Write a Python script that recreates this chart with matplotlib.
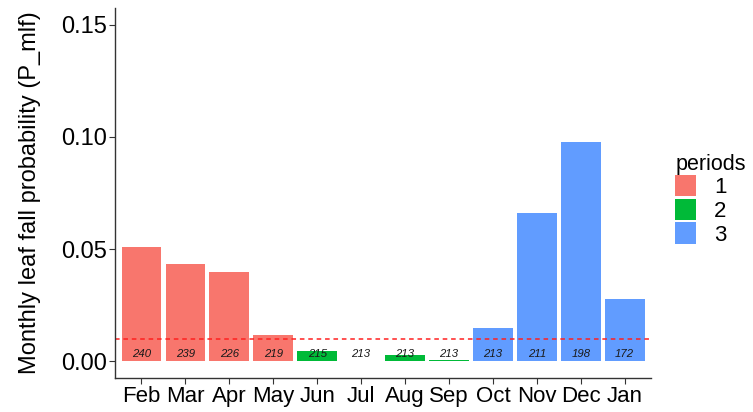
import matplotlib.pyplot as plt
from matplotlib.patches import Patch

plt.rcParams['font.family'] = ['Liberation Sans', 'DejaVu Sans']

months = ['Feb', 'Mar', 'Apr', 'May', 'Jun', 'Jul', 'Aug', 'Sep', 'Oct', 'Nov', 'Dec', 'Jan']
p_mlf = [0.0509, 0.0434, 0.0398, 0.0115, 0.0044, 0.0, 0.0027, 0.0006, 0.0147, 0.0660, 0.0978, 0.0279]
n_obs = [240, 239, 226, 219, 215, 213, 213, 213, 213, 211, 198, 172]
periods = [1, 1, 1, 1, 2, 2, 2, 2, 3, 3, 3, 3]
threshold = 0.01

period_colors = {1: '#F8766D', 2: '#00BA38', 3: '#619CFF'}

fig = plt.figure(figsize=(7.53, 4.12), dpi=100)
ax = fig.add_axes([0.1527, 0.0825, 0.712, 0.898])

x = list(range(len(months)))
ax.bar(x, p_mlf, width=0.9, color=[period_colors[p] for p in periods])
for xi, n in zip(x, n_obs):
    ax.text(xi, 0.0030, str(n), ha='center', va='center', fontsize=8.2,
            style='italic', color='#1a1a1a')
ax.axhline(threshold, color='#FF2020', linestyle=(0, (3, 2.5)), linewidth=1.1)

ax.set_xlim(-0.6, len(months) - 0.4)
ax.set_ylim(-0.0075, 0.1575)
ax.set_xticks(x)
ax.set_xticklabels(months, fontsize=16)
ax.set_yticks([0.0, 0.05, 0.10, 0.15])
ax.set_yticklabels(['0.00', '0.05', '0.10', '0.15'], fontsize=17)
ax.set_ylabel('Monthly leaf fall probability (P_mlf)', fontsize=17, labelpad=14)
ax.tick_params(axis='both', length=4, width=0.8, color='#333333', pad=2)
for side in ['top', 'right']:
    ax.spines[side].set_visible(False)
for side in ['left', 'bottom']:
    ax.spines[side].set_color('#333333')
    ax.spines[side].set_linewidth(1.0)

handles = [Patch(facecolor=period_colors[k], edgecolor='none', label=str(k)) for k in (1, 2, 3)]
leg = fig.legend(handles=handles, title='periods', loc='upper left',
                 bbox_to_anchor=(0.876, 0.665), frameon=False, fontsize=16,
                 title_fontsize=15.5, handlelength=0.95, handleheight=1.1,
                 handletextpad=0.8, labelspacing=0.02, alignment='left',
                 borderpad=0.2)

fig.savefig('out.png', dpi=100)
